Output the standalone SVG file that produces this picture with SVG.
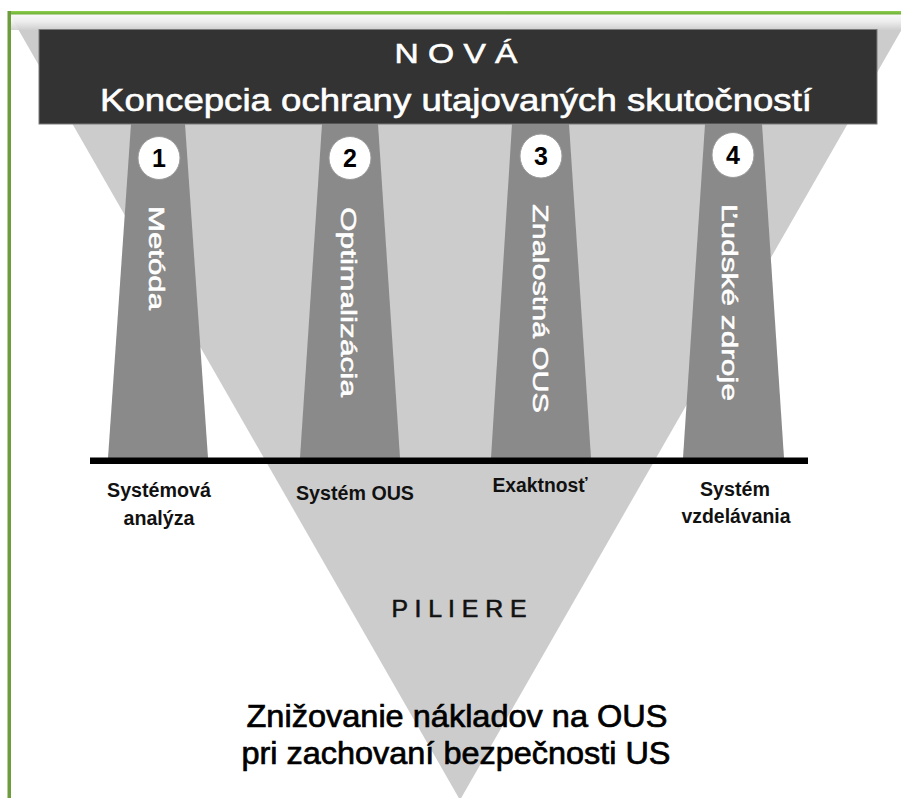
<svg xmlns="http://www.w3.org/2000/svg" width="901" height="798" viewBox="0 0 901 798">
  <defs>
    <linearGradient id="band" x1="0" y1="0" x2="0" y2="1">
      <stop offset="0" stop-color="#ffffff"/>
      <stop offset="0.45" stop-color="#f2f2f2"/>
      <stop offset="1" stop-color="#cfcfcf"/>
    </linearGradient>
    <linearGradient id="green" x1="0" y1="0" x2="0" y2="1">
      <stop offset="0" stop-color="#8fd04f"/>
      <stop offset="1" stop-color="#6aab34"/>
    </linearGradient>
  </defs>
  <style>
    text { font-family: "Liberation Sans", Arial, sans-serif; }
    .pillar { fill: #8a8a8a; }
    .badge { fill: #ffffff; stroke: #9a9a9a; stroke-width: 1; }
    .num { font-size: 25px; font-weight: bold; fill: #000000; text-anchor: middle; }
    .vert { font-size: 22px; fill: #ffffff; stroke: #ffffff; stroke-width: 0.5; }
    .label { font-size: 19.5px; font-weight: bold; fill: #111111; text-anchor: middle; }
    .bottom { font-size: 32px; fill: #000000; stroke: #000000; stroke-width: 0.7; text-anchor: middle; }
    .head { fill: #ffffff; stroke: #ffffff; stroke-width: 0.6; text-anchor: middle; }
  </style>
  <rect x="0" y="0" width="901" height="798" fill="#ffffff"/>

  <g id="triangle">
    <polygon points="10,15 910,15 460,800" fill="#cccccc"/>
    <rect x="11" y="14" width="890" height="16" fill="url(#band)" opacity="0.9"/>
  </g>

  <g id="frame">
    <rect x="8" y="11" width="893" height="3.5" fill="url(#green)"/>
    <rect x="7.5" y="11" width="3.5" height="787" fill="#6c9c3c"/>
  </g>

  <g id="header">
    <rect x="39" y="29.5" width="838" height="94.5" fill="#333333" stroke="#7a7a7a" stroke-width="1"/>
    <text class="head" x="456" y="63" font-size="28" textLength="123" lengthAdjust="spacingAndGlyphs">N O V Á</text>
    <text class="head" x="456" y="111" font-size="32" textLength="712" lengthAdjust="spacingAndGlyphs">Koncepcia ochrany utajovaných skutočností</text>
  </g>

  <g id="pillar1">
    <polygon class="pillar" points="131,124 185,124 208,458 108,458"/>
    <ellipse class="badge" cx="159" cy="158" rx="21" ry="21.5"/>
    <text class="num" x="159" y="167">1</text>
    <text class="vert" transform="translate(149,206) rotate(90)" textLength="104" lengthAdjust="spacingAndGlyphs">Metóda</text>
  </g>

  <g id="pillar2">
    <polygon class="pillar" points="322,124 378,124 400,458 300,458"/>
    <ellipse class="badge" cx="350" cy="158" rx="21" ry="21.5"/>
    <text class="num" x="350" y="167">2</text>
    <text class="vert" transform="translate(341,207) rotate(90)" textLength="190" lengthAdjust="spacingAndGlyphs">Optimalizácia</text>
  </g>

  <g id="pillar3">
    <polygon class="pillar" points="512,124 569,124 591,458 491,458"/>
    <ellipse class="badge" cx="541" cy="156" rx="21" ry="22"/>
    <text class="num" x="541" y="165">3</text>
    <text class="vert" transform="translate(533,204) rotate(90)" textLength="209" lengthAdjust="spacingAndGlyphs">Znalostná OUS</text>
  </g>

  <g id="pillar4">
    <polygon class="pillar" points="705,124 762,124 784,458 683,458"/>
    <ellipse class="badge" cx="733" cy="155" rx="21" ry="22.5"/>
    <text class="num" x="733" y="164">4</text>
    <text class="vert" transform="translate(722,204) rotate(90)" textLength="197" lengthAdjust="spacingAndGlyphs">Ľudské zdroje</text>
  </g>

  <g id="connectors">
    <rect x="90" y="457.5" width="718" height="6.5" fill="#000000"/>
  </g>

  <g id="labels">
    <text class="label" x="159" y="497" textLength="104" lengthAdjust="spacingAndGlyphs">Systémová</text>
    <text class="label" x="159" y="525" textLength="71" lengthAdjust="spacingAndGlyphs">analýza</text>
    <text class="label" x="355" y="500" textLength="118" lengthAdjust="spacingAndGlyphs">Systém OUS</text>
    <text class="label" x="540" y="492" textLength="95" lengthAdjust="spacingAndGlyphs">Exaktnosť</text>
    <text class="label" x="735" y="496" textLength="70" lengthAdjust="spacingAndGlyphs">Systém</text>
    <text class="label" x="736" y="523" textLength="109" lengthAdjust="spacingAndGlyphs">vzdelávania</text>
  </g>

  <g id="piliere">
    <text x="459" y="617" font-size="24" fill="#111111" stroke="#111111" stroke-width="0.6" text-anchor="middle" textLength="135" lengthAdjust="spacingAndGlyphs">P I L I E R E</text>
  </g>

  <g id="goal">
    <text class="bottom" x="457" y="727" textLength="421" lengthAdjust="spacingAndGlyphs">Znižovanie nákladov na OUS</text>
    <text class="bottom" x="456" y="764" textLength="429" lengthAdjust="spacingAndGlyphs">pri zachovaní bezpečnosti US</text>
  </g>
</svg>
